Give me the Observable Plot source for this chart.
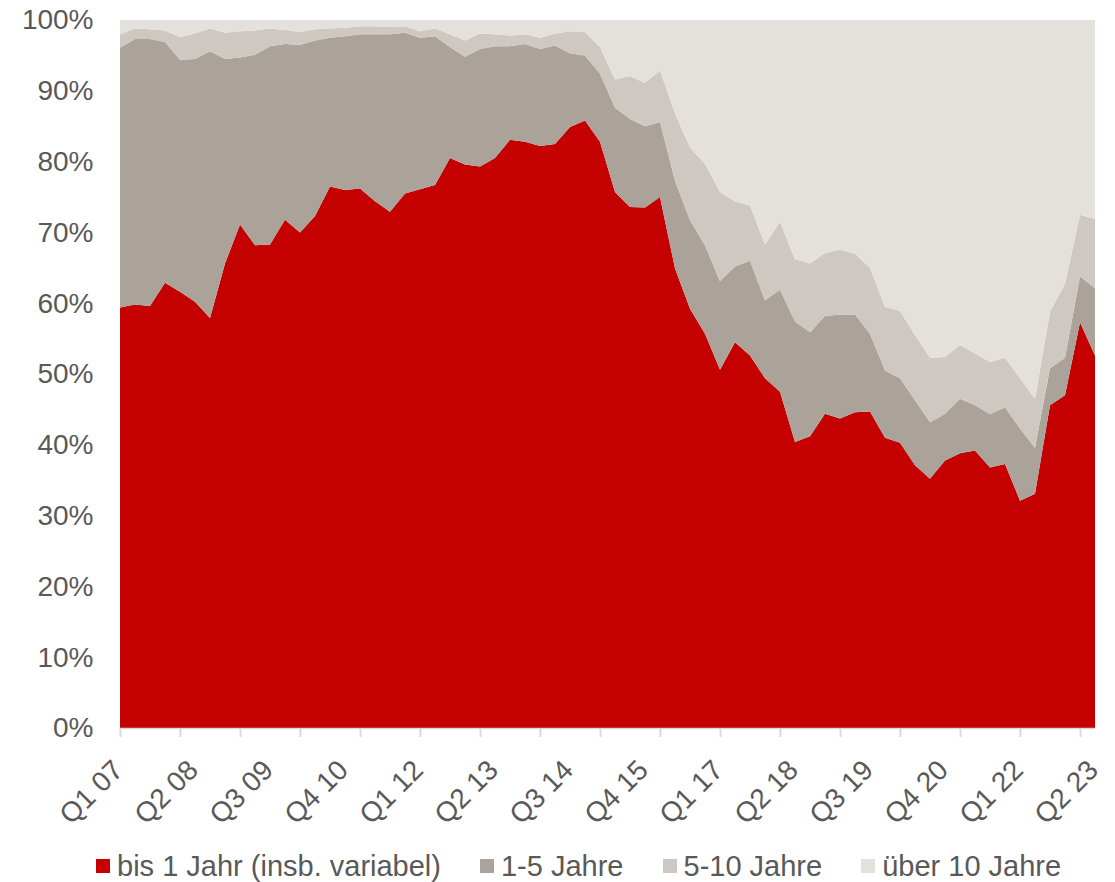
<!DOCTYPE html>
<html>
<head>
<meta charset="utf-8">
<script src="https://cdn.jsdelivr.net/npm/d3@7"></script>
<script src="https://cdn.jsdelivr.net/npm/@observablehq/plot@0.6"></script>
<style>
  html, body { margin: 0; padding: 0; background: #fff; }
  body { width: 1115px; height: 882px; position: relative; font-family: "Liberation Sans", Arial, sans-serif; overflow: hidden; }
  #chart { position: absolute; left: 0; top: 0; }
  #legend { position: absolute; left: 96px; top: 850px; height: 32px; display: flex; align-items: center; font-size: 29px; color: #595959; white-space: nowrap; }
  .item { display: flex; align-items: center; margin-right: 39px; }
  .sw { width: 14px; height: 14px; margin-right: 7px; }
</style>
</head>
<body>
<div id="chart"></div>
<div id="legend"></div>
<script>
const quarters = [
  "Q1 07","Q2 07","Q3 07","Q4 07","Q1 08","Q2 08","Q3 08","Q4 08",
  "Q1 09","Q2 09","Q3 09","Q4 09","Q1 10","Q2 10","Q3 10","Q4 10",
  "Q1 11","Q2 11","Q3 11","Q4 11","Q1 12","Q2 12","Q3 12","Q4 12",
  "Q1 13","Q2 13","Q3 13","Q4 13","Q1 14","Q2 14","Q3 14","Q4 14",
  "Q1 15","Q2 15","Q3 15","Q4 15","Q1 16","Q2 16","Q3 16","Q4 16",
  "Q1 17","Q2 17","Q3 17","Q4 17","Q1 18","Q2 18","Q3 18","Q4 18",
  "Q1 19","Q2 19","Q3 19","Q4 19","Q1 20","Q2 20","Q3 20","Q4 20",
  "Q1 21","Q2 21","Q3 21","Q4 21","Q1 22","Q2 22","Q3 22","Q4 22",
  "Q1 23","Q2 23"
];
const tickLabels = ["Q1 07","Q2 08","Q3 09","Q4 10","Q1 12","Q2 13","Q3 14","Q4 15","Q1 17","Q2 18","Q3 19","Q4 20","Q1 22","Q2 23"];
const yTicks = [0,10,20,30,40,50,60,70,80,90,100];

const seriesNames = ["bis 1 Jahr (insb. variabel)","1-5 Jahre","5-10 Jahre","über 10 Jahre"];
const seriesColors = ["#c40000","#aba29a","#cfc8c2","#e4e1dd"];

const bis1 = [59.4,59.8,59.6,62.9,61.6,60.2,57.9,65.6,71.1,68.2, 68.3,71.8,70.0,72.3,76.5,76.0,76.2,74.4,72.9,75.5,
  76.1,76.7,80.5,79.6,79.3,80.5,83.1,82.8,82.2,82.5, 84.9,85.8,82.8,75.7,73.6,73.5,75.0,64.9,59.2,55.7,
  50.6,54.5,52.6,49.4,47.5,40.4,41.2,44.4,43.7,44.6, 44.7,41.0,40.3,37.1,35.2,37.8,38.8,39.2,36.8,37.3,
  32.1,33.1,45.6,47.0,57.3,52.6];
const j1bis5 = [36.7,37.5,37.7,34.0,32.8,34.3,37.7,28.9,23.6,26.9, 28.0,24.8,26.5,24.8,21.0,21.7,21.8,23.6,25.1,22.7,
  21.4,21.0,15.7,15.2,16.6,15.8,13.2,13.8,13.7,13.9, 10.4,9.2,9.6,11.9,12.4,11.5,10.6,12.4,12.5,12.5,
  12.5,10.7,13.4,11.0,14.4,17.0,14.7,13.8,14.7,13.8, 11.0,9.5,9.1,9.2,8.0,6.6,7.7,6.4,7.5,8.0,
  10.2,6.5,5.2,5.3,6.5,9.5];
const j5bis10 = [1.9,1.5,1.4,1.6,3.2,3.6,3.2,3.7,3.7,3.4, 2.5,2.0,1.8,1.6,1.3,1.2,1.1,1.1,1.0,0.9,
  0.9,1.1,1.8,2.3,2.2,1.7,1.5,1.4,1.6,1.7, 3.1,3.3,3.8,4.0,6.1,6.1,7.3,9.5,10.3,11.5,
  12.6,9.2,7.8,7.9,9.6,8.8,9.7,8.9,9.2,8.6, 9.3,9.0,9.5,9.2,9.1,8.0,7.6,7.3,7.4,7.0,
  7.1,6.9,8.0,10.5,8.7,9.8];
const ueber10 = [2.0,1.2,1.3,1.5,2.4,1.9,1.2,1.8,1.6,1.5, 1.2,1.4,1.7,1.3,1.2,1.1,0.9,0.9,1.0,0.9,
  1.6,1.2,2.0,2.9,1.9,2.0,2.2,2.0,2.5,1.9, 1.6,1.7,3.8,8.4,7.9,8.9,7.1,13.2,18.0,20.3,
  24.3,25.6,26.2,31.7,28.5,33.8,34.4,32.9,32.4,33.0, 35.0,40.5,41.1,44.5,47.7,47.6,45.9,47.1,48.3,47.7,
  50.6,53.5,41.2,37.2,27.5,28.1];

const seriesValues = [bis1, j1bis5, j5bis10, ueber10];
const data = [];
seriesNames.forEach((name, s) => {
  quarters.forEach((q, i) => data.push({i, q, series: name, value: seriesValues[s][i]}));
});

const tickMarkPos = quarters.map((q, i) => i).filter(i => i % 4 === 0);
const labelPos = tickLabels.map(l => quarters.indexOf(l));

const fontFam = '"Liberation Sans", Arial, sans-serif';

const plot = Plot.plot({
  width: 1115,
  height: 845,
  marginLeft: 120,
  marginRight: 20,
  marginTop: 20,
  marginBottom: 117,
  style: {fontFamily: fontFam, color: "#595959", background: "#fff"},
  x: {domain: [0, quarters.length - 1]},
  y: {domain: [0, 100]},
  color: {domain: seriesNames, range: seriesColors},
  marks: [
    Plot.areaY(data, {x: "i", y: "value", fill: "series", z: "series", order: seriesNames, curve: "linear"}),
    Plot.ruleY([0], {stroke: "#d9d9d9", strokeWidth: 1.5}),
    Plot.axisX({ticks: tickMarkPos, tickSize: 9, stroke: "#d9d9d9", strokeWidth: 2, tickFormat: () => "", label: null}),
    Plot.axisX({ticks: labelPos, tickSize: 0, tickRotate: -45, tickPadding: 26, dx: -2, dy: 11, tickFormat: i => quarters[i], fontSize: 28, label: null}),
    Plot.axisY({ticks: yTicks, tickSize: 0, tickPadding: 27, tickFormat: d => d + "%", fontSize: 28, label: null})
  ]
});
document.getElementById("chart").appendChild(plot);

const legend = document.getElementById("legend");
seriesNames.forEach((name, k) => {
  const item = document.createElement("div");
  item.className = "item";
  const sw = document.createElement("span");
  sw.className = "sw";
  sw.style.background = seriesColors[k];
  const t = document.createElement("span");
  t.textContent = name;
  item.appendChild(sw);
  item.appendChild(t);
  legend.appendChild(item);
});
</script>
</body>
</html>
